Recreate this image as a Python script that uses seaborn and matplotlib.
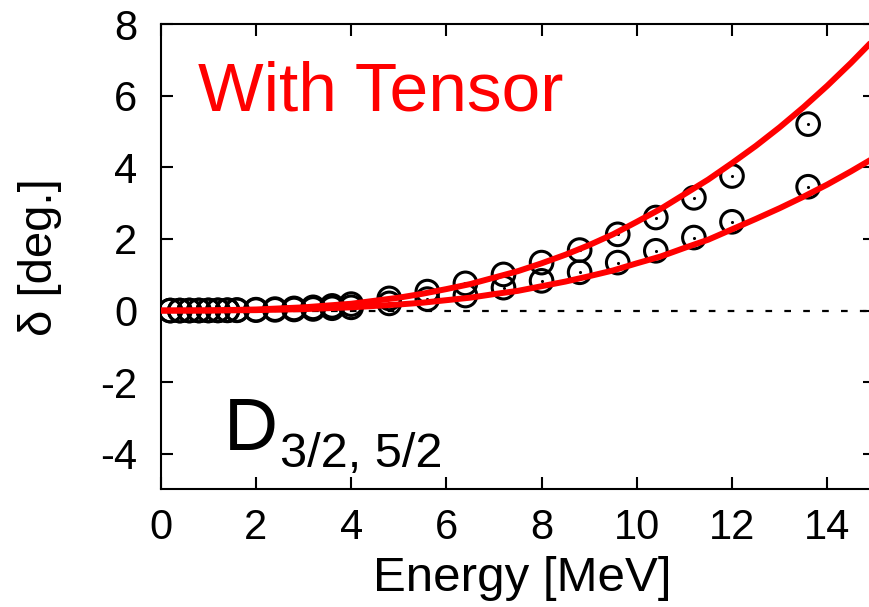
import matplotlib
matplotlib.use("Agg")
import matplotlib.pyplot as plt
import seaborn as sns
import pandas as pd

# ---- data ----
energy_pts = [0.2, 0.4, 0.6, 0.8, 1.0, 1.2, 1.4, 1.6, 2.0, 2.4, 2.8, 3.2, 3.6, 4.0,
              4.8, 5.6, 6.4, 7.2, 8.0, 8.8, 9.6, 10.4, 11.2, 12.0, 13.6]
delta_upper_pts = [0.0, 0.0, 0.002, 0.003, 0.005, 0.007, 0.01, 0.015, 0.025, 0.04, 0.06,
                   0.09, 0.13, 0.18, 0.34, 0.53, 0.76, 1.01, 1.34, 1.69, 2.13, 2.60,
                   3.15, 3.76, 5.21]
delta_lower_pts = [0.0, 0.0, 0.001, 0.001, 0.002, 0.003, 0.005, 0.007, 0.012, 0.02, 0.03,
                   0.045, 0.065, 0.09, 0.20, 0.32, 0.42, 0.64, 0.83, 1.07, 1.34, 1.67,
                   2.04, 2.48, 3.46]

energy_curve = [0, 1, 2, 3, 4, 5, 5.5, 6, 6.5, 7, 7.5, 8, 8.5, 9, 9.5, 10, 10.5,
                11, 11.5, 12, 12.5, 13, 13.5, 14, 14.5, 15]
delta_upper_curve = [0.0, 0.004, 0.03, 0.09, 0.19, 0.36, 0.47, 0.60, 0.74, 0.92, 1.10,
                     1.32, 1.56, 1.83, 2.13, 2.48, 2.84, 3.25, 3.66, 4.12, 4.60,
                     5.12, 5.68, 6.28, 6.92, 7.6]
delta_lower_curve = [0.0, 0.002, 0.012, 0.04, 0.09, 0.17, 0.22, 0.29, 0.36, 0.46, 0.55,
                     0.68, 0.81, 0.96, 1.12, 1.32, 1.51, 1.75, 1.98, 2.27, 2.56,
                     2.86, 3.18, 3.52, 3.89, 4.28]

x_ticks = [0, 2, 4, 6, 8, 10, 12, 14]
y_ticks = [-4, -2, 0, 2, 4, 6, 8]

# ---- style ----
sns.set_style("ticks")
plt.rcParams["font.family"] = ["Liberation Sans", "DejaVu Sans"]
plt.rcParams["axes.unicode_minus"] = False
plt.rcParams["text.color"] = "black"
plt.rcParams["axes.labelcolor"] = "black"
plt.rcParams["xtick.color"] = "black"
plt.rcParams["ytick.color"] = "black"

fig = plt.figure(figsize=(8.7, 6.07), dpi=100)
ax = fig.add_axes([0.1848, 0.1936, 0.8207, 0.7664])

pts = pd.DataFrame({
    "E": energy_pts + energy_pts,
    "d": delta_upper_pts + delta_lower_pts,
})
curves = pd.DataFrame({
    "E": energy_curve + energy_curve,
    "d": delta_upper_curve + delta_lower_curve,
    "s": ["u"] * len(energy_curve) + ["l"] * len(energy_curve),
})

ax.axhline(0, color="black", lw=1.6, ls=(0, (3, 5.5)), zorder=1)

sns.scatterplot(data=pts, x="E", y="d", ax=ax, marker="o", s=265,
                facecolors="none", edgecolor="black", linewidth=2.2, zorder=2,
                legend=False)
sns.scatterplot(data=pts, x="E", y="d", ax=ax, marker="o", s=5,
                color="black", linewidth=0, zorder=2, legend=False)
sns.lineplot(data=curves, x="E", y="d", units="s", estimator=None, ax=ax,
             color="#ff0000", lw=4.3, zorder=3, legend=False)

ax.set_xlim(0, 15)
ax.set_ylim(-5, 8)
ax.set_xticks(x_ticks)
ax.set_yticks(y_ticks)
ax.set_xticklabels([str(t) for t in x_ticks])
ax.set_yticklabels([str(t) for t in y_ticks])

for s in ax.spines.values():
    s.set_linewidth(1.5)
    s.set_color("black")
ax.tick_params(direction="in", length=8.6, width=1.5, top=True, right=True,
               labelsize=30, colors="black")
ax.tick_params(axis="x", pad=13)
ax.tick_params(axis="y", pad=17)

ax.set_xlabel("Energy [MeV]", fontsize=35.5, color="black")
ax.set_ylabel("δ [deg.]", fontsize=34, color="black")
ax.xaxis.set_label_coords(0.506, -0.143)
ax.yaxis.set_label_coords(-0.139, 0.5)

ax.text(0.78, 5.6, "With Tensor", color="#ff0000", fontsize=50,
        ha="left", va="baseline")
ax.text(1.33, -3.90, "D", color="black", fontsize=54, ha="left", va="baseline")
ax.text(2.50, -4.37, "3/2, 5/2", color="black", fontsize=35, ha="left",
        va="baseline")

fig.savefig("out.png", dpi=100)
